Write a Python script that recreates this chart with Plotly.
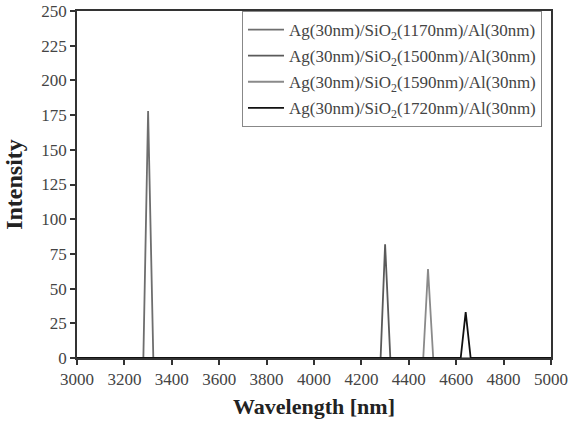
import plotly.graph_objects as go

names = [
    "Ag(30nm)/SiO<sub>2</sub>(1170nm)/Al(30nm)",
    "Ag(30nm)/SiO<sub>2</sub>(1500nm)/Al(30nm)",
    "Ag(30nm)/SiO<sub>2</sub>(1590nm)/Al(30nm)",
    "Ag(30nm)/SiO<sub>2</sub>(1720nm)/Al(30nm)",
]
wl_1170 = [3000, 3280, 3300, 3322, 5000]
int_1170 = [0, 0, 178, 0, 0]
wl_1500 = [3000, 4281, 4300, 4322, 5000]
int_1500 = [0, 0, 82, 0, 0]
wl_1590 = [3000, 4461, 4481, 4503, 5000]
int_1590 = [0, 0, 64, 0, 0]
wl_1720 = [3000, 4619, 4640, 4661, 5000]
int_1720 = [0, 0, 33, 0, 0]
colors = ["#6e6e6e", "#5a5a5a", "#8a8a8a", "#111111"]

xs = [wl_1170, wl_1500, wl_1590, wl_1720]
ys = [int_1170, int_1500, int_1590, int_1720]

fig = go.Figure()
for i, (n, x, y, c) in enumerate(zip(names, xs, ys, colors)):
    fig.add_trace(go.Scatter(x=x, y=y, mode="lines", name=n,
                             legendgroup=f"g{i}",
                             line=dict(color=c, width=1.8)))

font = "Liberation Serif, Times New Roman, serif"
fig.update_layout(
    width=568, height=426,
    margin=dict(l=77, r=17, t=11, b=68),
    paper_bgcolor="white", plot_bgcolor="white",
    font=dict(family=font, size=13, color="#444"),
    showlegend=True,
    legend=dict(x=0.981, y=1.0, xanchor="right", yanchor="top",
                bgcolor="white", bordercolor="#888", borderwidth=1,
                font=dict(family=font, size=17, color="#444"),
                tracegroupgap=1, itemwidth=36),
    xaxis=dict(range=[3000, 5000], tickmode="array",
               tickvals=list(range(3000, 5001, 200)),
               ticks="outside", ticklen=5, tickwidth=1.5, tickcolor="#333",
               showline=True, linecolor="#333", linewidth=1.5, mirror=True,
               showgrid=False, zeroline=False, automargin=False,
               tickfont=dict(family=font, size=17, color="#444"),
               title=dict(text="<b>Wavelength [nm]</b>", standoff=10,
                          font=dict(family=font, size=22, color="#222"))),
    yaxis=dict(range=[0, 250], tickmode="array",
               tickvals=list(range(0, 251, 25)),
               ticks="outside", ticklen=5, tickwidth=1.5, tickcolor="#333",
               showline=True, linecolor="#333", linewidth=1.5, mirror=True,
               showgrid=False, zeroline=False, automargin=False,
               tickfont=dict(family=font, size=17, color="#444"),
               title=dict(text="<b>Intensity</b>", standoff=12,
                          font=dict(family=font, size=24, color="#222"))),
)
fig.write_html("out.html")
